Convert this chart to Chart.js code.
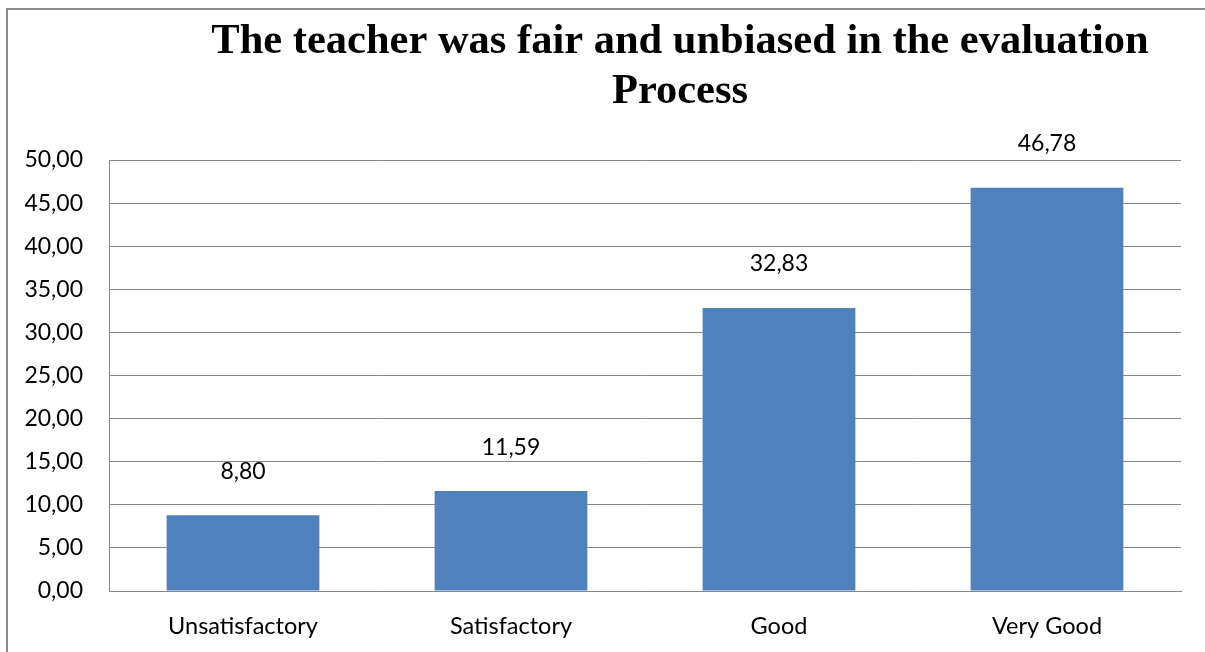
<!DOCTYPE html>
<html>
<head>
<meta charset="utf-8">
<script src="https://cdn.jsdelivr.net/npm/chart.js@4/dist/chart.umd.min.js"></script>
<style>
  html, body { margin: 0; padding: 0; background: #fff; overflow: hidden; }
  #wrap { width: 1205px; height: 652px; position: relative; }
</style>
</head>
<body>
<div id="wrap"><canvas id="chart" width="1205" height="652"></canvas></div>
<script>
const categories = ['Unsatisfactory', 'Satisfactory', 'Good', 'Very Good']
const values = [8.80, 11.59, 32.83, 46.78]
const titleLines = ['The teacher was fair and unbiased in the evaluation', 'Process']

const labelFont = '23px Lato'
const fmt = v => Number(v).toFixed(2).replace('.', ',')

// frame + title drawn by hand so the title can sit off-centre like the original
const framePlugin = {
  id: 'frame',
  afterDraw(chart) {
    const ctx = chart.ctx
    ctx.save()
    ctx.strokeStyle = '#8c8c8c'
    ctx.lineWidth = 2
    ctx.strokeRect(7, 9, 1205, 652)
    ctx.fillStyle = '#000'
    ctx.font = 'bold 42.5px "Liberation Serif"'
    ctx.textAlign = 'center'
    ctx.textBaseline = 'alphabetic'
    ctx.fillText(titleLines[0], 680, 53)
    ctx.fillText(titleLines[1], 680, 103)
    ctx.restore()
  }
}

const valueLabels = {
  id: 'valueLabels',
  afterDatasetsDraw(chart) {
    const ctx = chart.ctx
    const meta = chart.getDatasetMeta(0)
    ctx.save()
    ctx.font = labelFont
    ctx.fillStyle = '#000'
    ctx.textAlign = 'center'
    ctx.textBaseline = 'middle'
    meta.data.forEach(function (bar, i) {
      ctx.fillText(fmt(values[i]), bar.x, bar.y - 44)
    })
    ctx.restore()
  }
}

const myChart = new Chart(document.getElementById('chart'), {
  type: 'bar',
  data: {
    labels: categories,
    datasets: [{
      data: values,
      backgroundColor: '#4F81BD',
      borderWidth: 0,
      categoryPercentage: 1,
      barPercentage: 0.57
    }]
  },
  options: {
    responsive: false,
    animation: false,
    layout: { padding: { top: 160, right: 24, left: 0, bottom: 0 } },
    plugins: {
      legend: { display: false },
      title: { display: false },
      tooltip: { enabled: false }
    },
    scales: {
      x: {
        grid: { display: false, drawTicks: false },
        border: { color: '#888', width: 1 },
        ticks: { font: { family: 'Lato', size: 23.5 }, color: '#000', padding: 21 },
        afterFit(scale) { scale.height = 61 }
      },
      y: {
        min: 0,
        max: 50,
        ticks: {
          stepSize: 5,
          font: { family: 'Lato', size: 23 },
          color: '#000',
          padding: 26,
          callback: v => fmt(v)
        },
        grid: { color: '#888', lineWidth: 1, drawTicks: false },
        border: { color: '#888', width: 1 },
        afterFit(scale) { scale.width = 109 }
      }
    }
  },
  plugins: [framePlugin, valueLabels]
})
</script>
</body>
</html>
